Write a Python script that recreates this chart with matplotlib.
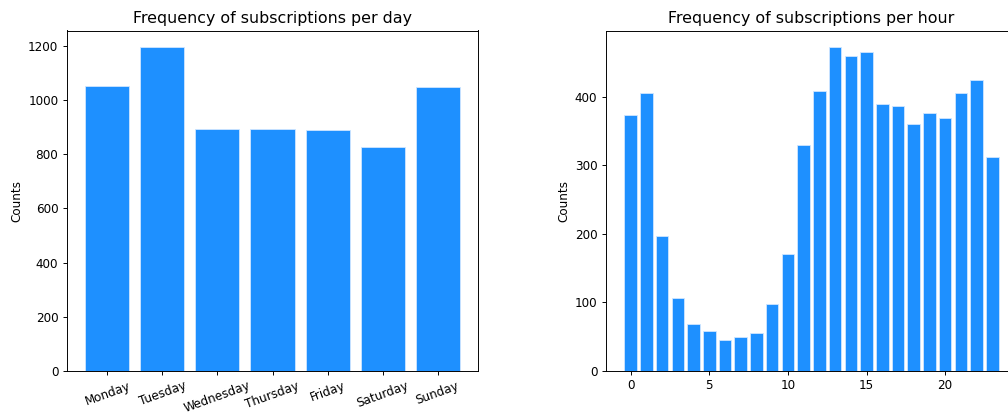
import matplotlib
matplotlib.use("Agg")
import matplotlib.pyplot as plt

days = ["Monday", "Tuesday", "Wednesday", "Thursday", "Friday", "Saturday", "Sunday"]
day_counts = [1052, 1196, 893, 893, 890, 827, 1047]

hours = list(range(24))
hour_counts = [373, 406, 197, 107, 69, 58, 45, 50, 55, 97, 171, 330,
               408, 473, 460, 465, 390, 387, 360, 376, 369, 406, 425, 312]

DPI = 86
fig = plt.figure(figsize=(1008 / DPI, 415 / DPI), dpi=DPI)

ax1 = fig.add_axes([66.7 / 1008, 44 / 415, 411.6 / 1008, 340.5 / 415])
ax2 = fig.add_axes([605.7 / 1008, 44 / 415, 411.6 / 1008, 340.5 / 415])

bar_style = dict(color="dodgerblue", edgecolor="#cfe6ff", linewidth=0.7)

ax1.bar(days, day_counts, **bar_style)
ax1.set_title("Frequency of subscriptions per day", fontsize=13.3)
ax1.set_ylabel("Counts")
ax1.tick_params(axis="x", labelrotation=20)

ax2.bar(hours, hour_counts, **bar_style)
ax2.set_title("Frequency of subscriptions per hour", fontsize=13.3)
ax2.set_ylabel("Counts")

fig.savefig("out.png", dpi=DPI)
